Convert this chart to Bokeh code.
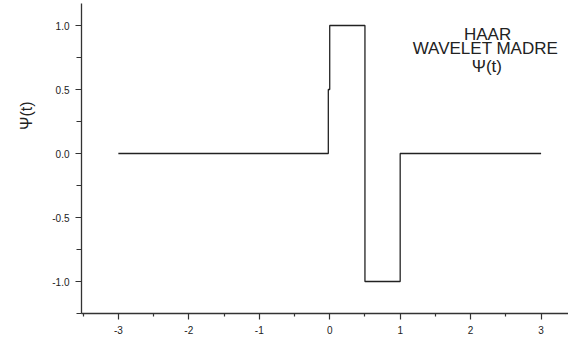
from bokeh.plotting import figure
from bokeh.models import FixedTicker, Label, Title
from bokeh.embed import file_html
from bokeh.resources import INLINE

# Haar mother wavelet samples
t_vals = [-3.0, -0.02, -0.02, 0.0, 0.0, 0.5, 0.5, 1.0, 1.0, 3.0]
psi_vals = [0.0, 0.0, 0.5, 0.5, 1.0, 1.0, -1.0, -1.0, 0.0, 0.0]

x_ticks = [-3, -2, -1, 0, 1, 2, 3]
x_minor = [-3.5, -2.5, -1.5, -0.5, 0.5, 1.5, 2.5]
y_ticks = [-1.0, -0.5, 0.0, 0.5, 1.0]
y_tick_labels = ["-1.0", "-0.5", "0.0", "0.5", "1.0"]
y_minor = [-1.25, -0.75, -0.25, 0.25, 0.75]

title_lines = ["HAAR", "WAVELET MADRE", "\u03a8(t)"]
title_x = [2.24, 2.21, 2.23]
title_y = [0.93, 0.822, 0.678]
y_label = "\u03a8(t)"

FONT = "Liberation Sans"
INK = "#222222"

p = figure(width=568, height=339, output_backend="svg", toolbar_location=None,
           x_range=(-3.523, 3.389), y_range=(-1.25, 1.172),
           min_border_left=80, min_border_right=0, min_border_top=3,
           min_border_bottom=26)
p.outline_line_color = None
p.grid.visible = False
p.background_fill_color = "white"

p.line(t_vals, psi_vals, line_color=INK, line_width=1.3)

for ax in (p.xaxis[0], p.yaxis[0]):
    ax.axis_line_color = "#333333"
    ax.axis_line_width = 1.3
    ax.major_tick_line_color = "#333333"
    ax.minor_tick_line_color = "#333333"
    ax.major_tick_line_width = 1.2
    ax.minor_tick_line_width = 1.2
    ax.major_tick_in = 0
    ax.minor_tick_in = 0
    ax.major_tick_out = 6
    ax.major_label_text_font = FONT
    ax.major_label_text_font_size = "10px"
    ax.major_label_text_color = INK

p.xaxis[0].ticker = FixedTicker(ticks=x_ticks, minor_ticks=x_minor)
p.xaxis[0].minor_tick_out = 3
p.xaxis[0].major_label_standoff = 6
p.xaxis[0].major_label_overrides = {v: str(v) for v in x_ticks}

p.yaxis[0].ticker = FixedTicker(ticks=y_ticks, minor_ticks=y_minor)
p.yaxis[0].minor_tick_out = 5
p.yaxis[0].major_label_standoff = 6
p.yaxis[0].major_label_overrides = {v: s for v, s in zip(y_ticks, y_tick_labels)}

for txt, xv, yv in zip(title_lines, title_x, title_y):
    p.add_layout(Label(x=xv, y=yv, text=txt, text_font=FONT,
                       text_font_size="17px", text_color=INK,
                       text_align="center", text_baseline="middle"))

p.add_layout(Title(text=y_label, align="right", offset=98, standoff=30,
                   text_font=FONT, text_font_size="16px",
                   text_font_style="normal", text_color=INK), "left")

open("out.html", "w").write(file_html(p, INLINE))
